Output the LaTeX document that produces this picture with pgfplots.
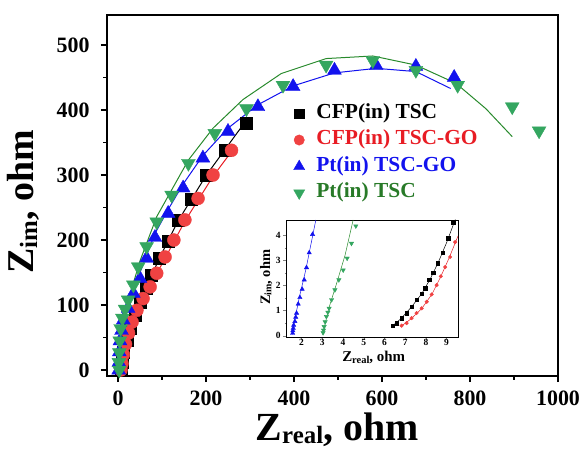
\documentclass[border=0pt]{standalone}
\usepackage{pgfplots}
\pgfplotsset{compat=1.18}
\usepackage{fontspec}
\setmainfont{Liberation Serif}

\definecolor{redm}{RGB}{240,66,66}
\definecolor{redt}{RGB}{232,28,36}
\definecolor{bluem}{RGB}{18,18,238}
\definecolor{greenm}{RGB}{52,166,96}
\definecolor{greenl}{RGB}{40,138,44}
\definecolor{greent}{RGB}{40,122,40}

% Nyquist data, main panel (Z_real, Z_im in ohm)
\pgfplotstableread{
x y
6.4 0.4
9 12
12 28
20 46
27 64
39 85
50 105
63 126
76 146
94 172
114 199
137 230
167 263
201 300
243 338
292 379
}\cfpTSC
\pgfplotstableread{
x y
6.8 0.4
9 10
12 24
17 40
24 57
32 74
43 92
57 110
73 128
88 149
107 174
127 200
152 231
182 264
216 300
258 338
}\cfpGO
\pgfplotstableread{
x y
1.6 0.1
2 12
3 28
4.5 45
8 61
12 77
23 95
35 118
50 141
65 172
84 204
114 241
148 280
193 326
250 367
318 405
398 436
492 461
587 468
677 467
764 450
}\ptGO
\pgfplotstableread{
x y
3 0.2
2 12
3 27
4 45
6 64
10 80
16 94
23 108
35 131
46 159
65 190
88 228
122 269
160 318
220 364
292 402
375 438
473 469
579 476
677 461
772 438
896 405
957 368
}\ptTSC

% fitted curves
\pgfplotstableread{
x y
6 0
20 46
50 105
94 172
137 230
201 300
243 339
284 377
}\cfpTSCfit
\pgfplotstableread{
x y
7 0
25 55
57 110
107 172
152 229
216 298
258 336
}\cfpGOfit
\pgfplotstableread{
x y
2 0
20 100
50 150
84 210
114 247
148 286
193 330
250 372
318 408
398 437
492 457
587 464
677 459
756 433
}\ptGOfit
\pgfplotstableread{
x y
4 0
20 100
50 168
88 236
160 323
216 372
284 416
371 456
473 479
579 483
677 469
768 441
836 402
896 359
}\ptTSCfit

% Inset: high-frequency region
\pgfplotstableread{
x y
6.40 0.40
6.59 0.50
6.83 0.70
7.07 0.90
7.31 1.16
7.55 1.43
7.80 1.66
7.96 1.89
8.17 2.22
8.36 2.51
8.57 2.88
8.81 3.31
9.08 3.87
9.32 4.49
}\icfpTSC
\pgfplotstableread{
x y
6.83 0.40
7.07 0.50
7.31 0.70
7.55 0.90
7.80 1.09
8.04 1.35
8.28 1.64
8.52 2.01
8.72 2.36
8.93 2.73
9.17 3.13
9.41 3.72
}\icfpGO
\pgfplotstableread{
x y
1.57 0.10
1.58 0.20
1.60 0.30
1.62 0.42
1.68 0.57
1.72 0.74
1.76 0.90
1.84 1.26
1.92 1.52
2.03 1.85
2.13 2.22
2.24 2.71
2.37 3.30
2.53 4.03
}\iptGO
\pgfplotstableread{
x y
3.04 0.12
3.06 0.22
3.09 0.36
3.14 0.55
3.20 0.76
3.27 0.93
3.33 1.09
3.45 1.43
3.61 1.82
3.80 2.22
4.01 2.61
4.20 3.08
4.41 3.67
4.62 4.36
}\iptTSC
\pgfplotstableread{
x y
6.35 0.36
6.8 0.68
7.3 1.14
7.8 1.67
8.2 2.24
8.6 2.92
9.0 3.70
9.42 4.62
}\icfpTSCfit
\pgfplotstableread{
x y
6.78 0.36
7.3 0.68
7.8 1.08
8.3 1.66
8.7 2.32
9.1 3.05
9.56 3.98
}\icfpGOfit
\pgfplotstableread{
x y
1.55 0.05
1.7 0.75
1.9 1.55
2.2 2.6
2.69 4.6
}\iptGOfit
\pgfplotstableread{
x y
3.02 0.05
3.3 1.05
3.7 2.10
4.1 3.20
4.49 4.6
}\iptTSCfit

\begin{document}
\begin{tikzpicture}
\useasboundingbox (-107bp,-74bp) rectangle (480bp,376bp);
\begin{axis}[
  at={(0,0)}, anchor=south west,
  width=451bp, height=361bp, scale only axis,
  xmin=-25, xmax=1000, ymin=-9, ymax=546,
  xtick={0,200,...,1000}, ytick={0,100,...,500},
  minor x tick num=1, minor y tick num=1,
  xtick pos=left, ytick pos=left,
  tick align=outside,
  major tick length=6bp, minor tick length=3.5bp,
  every tick/.style={line width=1.3pt, black},
  axis line style={line width=1.4pt},
  /pgf/number format/assume math mode=true,
  /pgf/number format/1000 sep={},
  ticklabel style={font=\bfseries\fontsize{22}{24}\selectfont},
  xticklabel style={yshift=-8bp, inner sep=1bp},
  yticklabel style={xshift=-8bp},
  xlabel={Z\raisebox{-0.09em}{\fontsize{25}{25}\selectfont real}, ohm},
  ylabel={Z\raisebox{-0.11em}{\fontsize{25}{25}\selectfont im}, ohm},
  xlabel style={font=\bfseries\fontsize{40}{44}\selectfont, inner sep=0pt, at={(axis description cs:0.51,-0.178)}, anchor=base},
  ylabel style={font=\bfseries\fontsize{38}{42}\selectfont, at={(axis description cs:-0.164,0.482)}, anchor=base},
  legend cell align=left,
  legend style={draw=none, fill=none, at={(axis description cs:0.412,0.756)}, anchor=north west,
    inner sep=0pt, row sep=6bp,
    font=\bfseries\fontsize{21.5}{23}\selectfont,
    nodes={inner sep=1bp, text height=14bp, text depth=4.5bp}},
  legend image code/.code={\path (-6bp,0) (16bp,0);\draw[#1, every mark/.append style={scale=0.8}] plot coordinates {(0bp,0bp)};},
]
\addplot[black, line width=1pt, forget plot] table {\cfpTSCfit};
\addplot[redt, line width=1pt, forget plot] table {\cfpGOfit};
\addplot[bluem, line width=1pt, forget plot] table {\ptGOfit};
\addplot[greenl, line width=1pt, forget plot] table {\ptTSCfit};

\addplot[only marks, mark=square*, mark size=6bp, mark options={fill=black, draw=black}] table {\cfpTSC};
\addlegendentry{\textcolor{black}{CFP(in) TSC}}
\addplot[only marks, mark=*, mark size=6.5bp, mark options={fill=redm, draw=redm}] table {\cfpGO};
\addlegendentry{\textcolor{redt}{CFP(in) TSC-GO}}
\addplot[only marks, mark=triangle*, mark size=8bp, mark options={fill=bluem, draw=bluem}] table {\ptGO};
\addlegendentry{\textcolor{bluem}{Pt(in) TSC-GO}}
\addplot[only marks, mark=triangle*, mark size=8bp, mark options={fill=greenm, draw=greenm, rotate=180}] table {\ptTSC};
\addlegendentry{\textcolor{greent}{Pt(in) TSC}}
\end{axis}

\begin{axis}[
  at={(179bp,39bp)}, anchor=south west,
  width=172bp, height=117bp, scale only axis,
  xmin=1.25, xmax=9.55, ymin=-0.05, ymax=4.6,
  xtick={2,...,9}, ytick={0,...,4},
  minor x tick num=1, minor y tick num=1,
  xtick pos=left, ytick pos=left,
  tick align=outside,
  major tick length=3bp, minor tick length=1.5bp,
  axis line style={line width=0.8pt},
  axis background/.style={fill=white},
  /pgf/number format/assume math mode=true,
  ticklabel style={font=\bfseries\fontsize{9.5}{10}\selectfont},
  xticklabel style={yshift=2bp, inner sep=1bp},
  yticklabel style={xshift=1bp},
  xlabel={Z\raisebox{-0.1em}{\fontsize{10.5}{11}\selectfont real}, ohm},
  ylabel={Z\raisebox{-0.1em}{\fontsize{10}{11}\selectfont im}, ohm},
  xlabel style={font=\bfseries\fontsize{15}{17}\selectfont, inner sep=0pt, at={(axis description cs:0.51,-0.21)}, anchor=base},
  ylabel style={font=\bfseries\fontsize{14.5}{16}\selectfont, inner sep=0pt, at={(axis description cs:-0.093,0.51)}, anchor=base},
]
\addplot[black, line width=0.5pt] table {\icfpTSCfit};
\addplot[redt, line width=0.5pt] table {\icfpGOfit};
\addplot[bluem, line width=0.5pt] table {\iptGOfit};
\addplot[greenl, line width=0.5pt] table {\iptTSCfit};
\addplot[only marks, mark=square*, mark size=1.7bp, mark options={fill=black, draw=black}] table {\icfpTSC};
\addplot[only marks, mark=*, mark size=1.8bp, mark options={fill=redm, draw=redm}] table {\icfpGO};
\addplot[only marks, mark=triangle*, mark size=2.5bp, mark options={fill=bluem, draw=bluem}] table {\iptGO};
\addplot[only marks, mark=triangle*, mark size=2.5bp, mark options={fill=greenm, draw=greenm, rotate=180}] table {\iptTSC};
\end{axis}
\end{tikzpicture}
\end{document}
